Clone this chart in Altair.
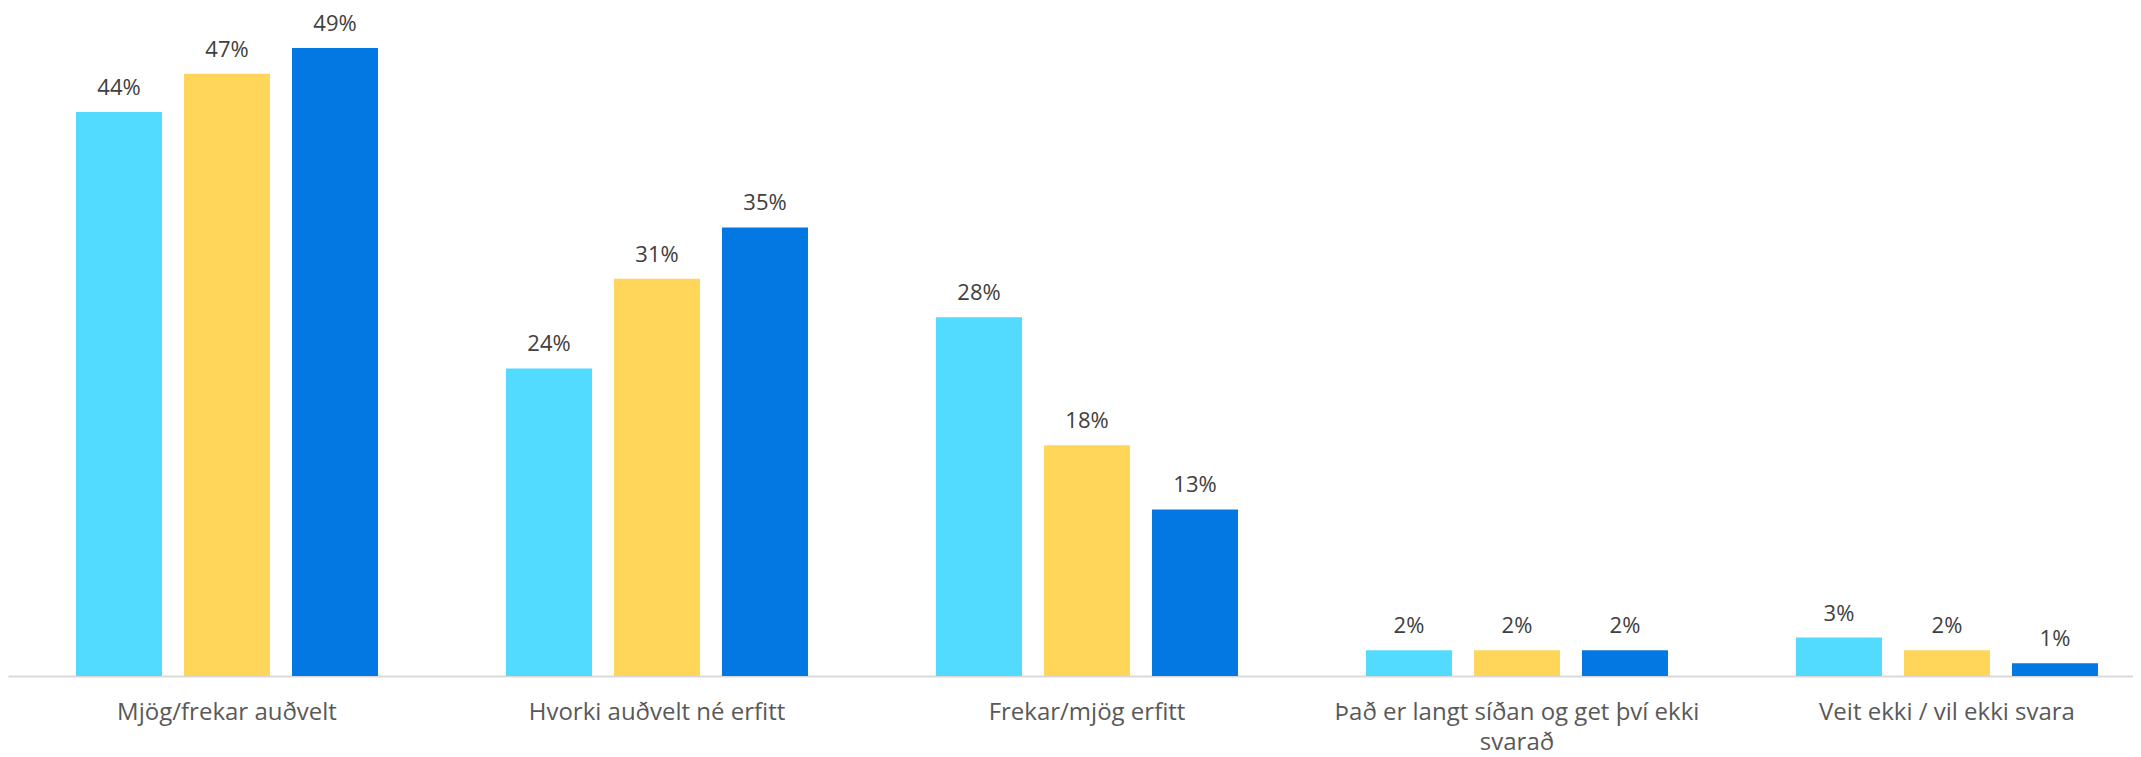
import altair as alt
import pandas as pd

categories = [
    "Mjög/frekar auðvelt",
    "Hvorki auðvelt né erfitt",
    "Frekar/mjög erfitt",
    "Það er langt síðan og get því ekki svarað",
    "Veit ekki / vil ekki svara",
]
series = ["Röð 1", "Röð 2", "Röð 3"]
values_s1 = [44, 24, 28, 2, 3]
values_s2 = [47, 31, 18, 2, 2]
values_s3 = [49, 35, 13, 2, 1]
colors = ["#53DAFF", "#FFD55A", "#0478E2"]

rows = []
for s, vals in zip(series, [values_s1, values_s2, values_s3]):
    for c, v in zip(categories, vals):
        rows.append({"cat": c, "series": s, "value": v, "label": f"{v}%"})
df = pd.DataFrame(rows)

FONT = "Open Sans"

x = alt.X(
    "cat:N",
    sort=categories,
    scale=alt.Scale(paddingInner=0.0581, paddingOuter=0, align=0, round=False),
    axis=alt.Axis(
        title=None,
        ticks=False,
        domain=True,
        domainColor="#D9D9D9",
        domainWidth=2,
        labelAngle=0,
        labelFont=FONT,
        labelFontSize=24,
        labelColor="#595959",
        labelPadding=24,
        labelLineHeight=30,
        labelLimit=600,
        labelOffset=16.5,
        labelExpr="datum.value == 'Það er langt síðan og get því ekki svarað' ? ['Það er langt síðan og get því ekki', 'svarað'] : datum.value",
    ),
)
xo = alt.XOffset(
    "series:N",
    sort=series,
    scale=alt.Scale(paddingInner=0.2037, paddingOuter=0.47685, align=0.66, round=False),
)
y = alt.Y("value:Q", scale=alt.Scale(domain=[0, 51.5], nice=False), axis=None)

base = alt.Chart(df).encode(x=x, xOffset=xo, y=y)

bars = base.mark_bar().encode(
    color=alt.Color("series:N", sort=series, scale=alt.Scale(domain=series, range=colors), legend=None)
)
texts = base.mark_text(
    font=FONT, fontSize=22, color="#404040", baseline="middle", dy=-24
).encode(text="label:N")

chart = (
    alt.layer(bars, texts)
    .properties(
        width=2125,
        height=660,
        padding={"left": 0, "top": 8, "right": 0, "bottom": 81},
        autosize=alt.AutoSizeParams(type="none"),
    )
    .configure_view(stroke=None)
)

chart.save("out.html", embed_options={"renderer": "svg", "actions": False})
